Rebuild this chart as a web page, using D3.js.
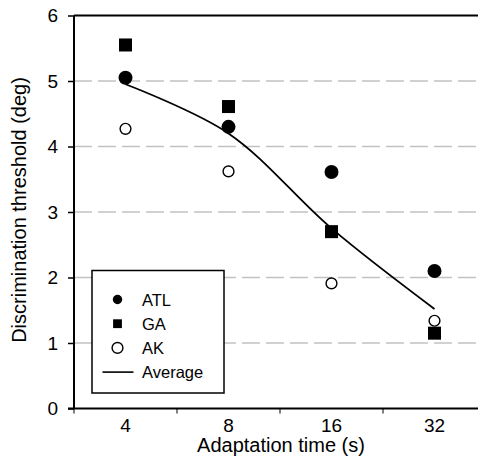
<!DOCTYPE html>
<html>
<head>
<meta charset="utf-8">
<script src="https://cdn.jsdelivr.net/npm/d3@7"></script>
<style>
  html, body { margin: 0; padding: 0; background: #fff; }
  svg { display: block; font-family: "Liberation Sans", Arial, Helvetica, sans-serif; }
</style>
</head>
<body>
<svg id="chart" width="478" height="458"></svg>
<script>
// Adaptation time conditions (s)
const categories = ["4", "8", "16", "32"];
// Discrimination thresholds (deg) per observer
const atl = [5.05, 4.30, 3.61, 2.10];
const ga = [5.55, 4.61, 2.70, 1.15];
const ak = [4.27, 3.62, 1.91, 1.34];
// Average across observers
const average = [4.95, 4.20, 2.75, 1.52];
const yTicks = [0, 1, 2, 3, 4, 5, 6];
const gridValues = [1, 2, 3, 4, 5];

const svg = d3.select("#chart");
const W = 478;
const plotLeft = 74, plotTop = 15.5, plotBottom = 408.5, plotRight = 486;

const x = d3.scaleBand().domain(categories).range([plotLeft, plotRight]).padding(0);
const y = d3.scaleLinear().domain([0, 6]).range([plotBottom, plotTop]);
const cx = c => x(c) + x.bandwidth() / 2;

// dashed horizontal gridlines
svg.append("g").selectAll("line").data(gridValues).join("line")
  .attr("x1", plotLeft).attr("x2", W)
  .attr("y1", d => y(d)).attr("y2", d => y(d))
  .attr("stroke", "#c2c2c2").attr("stroke-width", 1.6)
  .attr("stroke-dasharray", "18,6");

// top frame line
svg.append("line")
  .attr("x1", plotLeft).attr("x2", W)
  .attr("y1", plotTop).attr("y2", plotTop)
  .attr("stroke", "#000").attr("stroke-width", 2);

// y axis
const yAxis = svg.append("g")
  .attr("transform", `translate(${plotLeft},0)`)
  .call(d3.axisLeft(y).tickValues(yTicks).tickFormat(d3.format("d")).tickSize(6).tickPadding(10));
yAxis.select(".domain").attr("stroke-width", 2).attr("d", `M0,${plotTop}V${plotBottom}`);
yAxis.selectAll(".tick line").attr("stroke-width", 1.5);
yAxis.selectAll("text").attr("font-size", 19).attr("fill", "#000")
  .attr("font-family", "Liberation Sans, Arial, sans-serif");

// x axis: ticks at category boundaries
const xAxis = svg.append("g").attr("transform", `translate(0,${plotBottom})`);
xAxis.append("line").attr("x1", plotLeft - 6).attr("x2", W)
  .attr("y1", 0).attr("y2", 0).attr("stroke", "#000").attr("stroke-width", 2);
xAxis.selectAll("line.bt").data(categories).join("line").attr("class", "bt")
  .attr("x1", d => x(d)).attr("x2", d => x(d))
  .attr("y1", 0).attr("y2", 5).attr("stroke", "#000").attr("stroke-width", 1);
xAxis.selectAll("text").data(categories).join("text")
  .attr("x", d => cx(d)).attr("y", 23.5)
  .attr("text-anchor", "middle").attr("font-size", 19).text(d => d);

// axis titles
svg.append("text")
  .attr("x", (plotLeft + plotRight) / 2 + 1).attr("y", 452)
  .attr("text-anchor", "middle").attr("font-size", 20)
  .text("Adaptation time (s)");
svg.append("text")
  .attr("transform", `translate(25.5,210) rotate(-90)`)
  .attr("text-anchor", "middle").attr("font-size", 20)
  .text("Discrimination threshold (deg)");

// average curve
const line = d3.line()
  .x((d, i) => cx(categories[i]))
  .y(d => y(d))
  .curve(d3.curveCatmullRom.alpha(0.5));
svg.append("path").datum(average)
  .attr("d", line).attr("fill", "none")
  .attr("stroke", "#000").attr("stroke-width", 1.8);

// observer markers
svg.append("g").selectAll("circle").data(atl).join("circle")
  .attr("cx", (d, i) => cx(categories[i])).attr("cy", d => y(d))
  .attr("r", 7).attr("fill", "#000");
const sq = 13;
svg.append("g").selectAll("rect").data(ga).join("rect")
  .attr("x", (d, i) => cx(categories[i]) - sq / 2).attr("y", d => y(d) - sq / 2)
  .attr("width", sq).attr("height", sq).attr("fill", "#000");
svg.append("g").selectAll("circle").data(ak).join("circle")
  .attr("cx", (d, i) => cx(categories[i])).attr("cy", d => y(d))
  .attr("r", 5.4).attr("fill", "#fff").attr("stroke", "#000").attr("stroke-width", 1.4);

// legend
const lg = svg.append("g");
lg.append("rect").attr("x", 92).attr("y", 270.5).attr("width", 132).attr("height", 122.5)
  .attr("fill", "#fff").attr("stroke", "#000").attr("stroke-width", 1.5);
const entries = [
  { label: "ATL", type: "dot" },
  { label: "GA", type: "square" },
  { label: "AK", type: "open" },
  { label: "Average", type: "line" }
];
entries.forEach((e, i) => {
  const ey = 299.5 + i * 24.2;
  const mx = 117.5;
  if (e.type === "dot") {
    lg.append("circle").attr("cx", mx).attr("cy", ey).attr("r", 4.7).attr("fill", "#000");
  } else if (e.type === "square") {
    lg.append("rect").attr("x", mx - 4.4).attr("y", ey - 4.4).attr("width", 8.8).attr("height", 8.8).attr("fill", "#000");
  } else if (e.type === "open") {
    lg.append("circle").attr("cx", mx).attr("cy", ey).attr("r", 5.4)
      .attr("fill", "#fff").attr("stroke", "#000").attr("stroke-width", 1.4);
  } else {
    lg.append("line").attr("x1", 102.5).attr("x2", 133.5).attr("y1", ey).attr("y2", ey)
      .attr("stroke", "#000").attr("stroke-width", 1.6);
  }
  lg.append("text").attr("x", 142).attr("y", ey + 6).attr("font-size", 16.5).text(e.label);
});
</script>
</body>
</html>
